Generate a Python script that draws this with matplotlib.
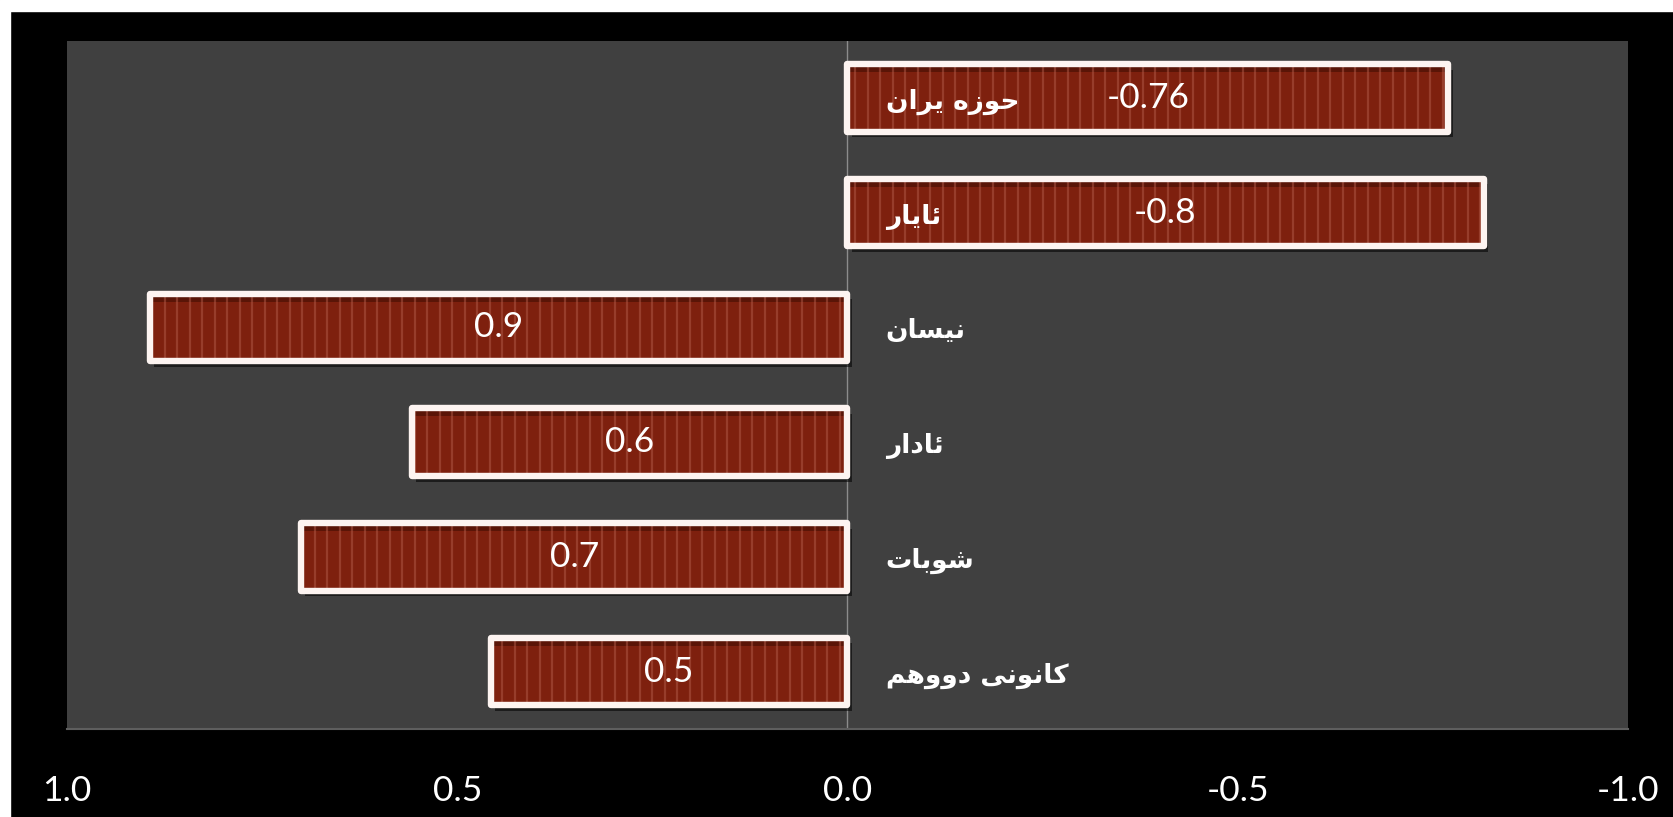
import numpy as np
import matplotlib
matplotlib.use("Agg")
import matplotlib.pyplot as plt
import matplotlib.patheffects as pe
from matplotlib.patches import Rectangle

# ---------------- data ----------------
months = ["کانونی دووهم", "شوبات", "ئادار", "نیسان", "ئایار", "حوزه یران"]
values = [0.457, 0.70, 0.558, 0.894, -0.815, -0.77]
value_labels = ["0.5", "0.7", "0.6", "0.9", "-0.8", "-0.76"]
xticks = [1.0, 0.5, 0.0, -0.5, -1.0]
xtick_labels = ["1.0", "0.5", "0.0", "-0.5", "-1.0"]

# ---------------- simple Arabic-script shaping ----------------
FORMS = {
    "\u0627": ("\uFE8D", "\uFE8E", None, None),
    "\u0628": ("\uFE8F", "\uFE90", "\uFE91", "\uFE92"),
    "\u062A": ("\uFE95", "\uFE96", "\uFE97", "\uFE98"),
    "\u062D": ("\uFEA1", "\uFEA2", "\uFEA3", "\uFEA4"),
    "\u062F": ("\uFEA9", "\uFEAA", None, None),
    "\u0631": ("\uFEAD", "\uFEAE", None, None),
    "\u0632": ("\uFEAF", "\uFEB0", None, None),
    "\u0633": ("\uFEB1", "\uFEB2", "\uFEB3", "\uFEB4"),
    "\u0634": ("\uFEB5", "\uFEB6", "\uFEB7", "\uFEB8"),
    "\u0645": ("\uFEE1", "\uFEE2", "\uFEE3", "\uFEE4"),
    "\u0646": ("\uFEE5", "\uFEE6", "\uFEE7", "\uFEE8"),
    "\u0647": ("\uFEE9", "\uFEEA", "\uFEEB", "\uFEEC"),
    "\u0648": ("\uFEED", "\uFEEE", None, None),
    "\u0626": ("\uFE89", "\uFE8A", "\uFE8B", "\uFE8C"),
    "\u06CC": ("\uFBFC", "\uFBFD", "\uFBFE", "\uFBFF"),
    "\u06A9": ("\uFB8E", "\uFB8F", "\uFB90", "\uFB91"),
}


def shape(text):
    out = []
    n = len(text)
    for i, ch in enumerate(text):
        if ch not in FORMS:
            out.append(ch)
            continue
        prev = text[i - 1] if i > 0 else None
        nxt = text[i + 1] if i < n - 1 else None
        jp = prev in FORMS and FORMS[prev][2] is not None
        jn = FORMS[ch][2] is not None and nxt in FORMS
        iso, fin, ini, med = FORMS[ch]
        if jp and jn:
            out.append(med)
        elif jp:
            out.append(fin)
        elif jn:
            out.append(ini)
        else:
            out.append(iso)
    return "".join(out)[::-1]


# ---------------- figure ----------------
W, H = 1674, 817
fig = plt.figure(figsize=(W / 100, H / 100), dpi=100, facecolor="black")
fig.add_artist(Rectangle((0, 1 - 11 / H), 1, 11 / H, transform=fig.transFigure,
                         color="white", zorder=10))
fig.add_artist(Rectangle((0, 0), 10 / W, 1, transform=fig.transFigure,
                         color="white", zorder=10))

ax = fig.add_axes([67 / W, 1 - 729 / H, (1628 - 67) / W, (729 - 40.5) / H])
ax.set_facecolor("#404040")
for s in ["top", "left", "right"]:
    ax.spines[s].set_visible(False)
ax.spines["bottom"].set_color("#5e5e5e")
ax.spines["bottom"].set_linewidth(1.5)

ax.set_xlim(1.0, -1.0)
ax.set_ylim(-0.5, len(months) - 0.5)
ax.set_yticks([])
ax.set_xticks(xticks)
ax.set_xticklabels(xtick_labels, family="Lato", fontsize=25.5, color="white")
ax.tick_params(axis="x", length=0, pad=33)

ax.axvline(0, color="#8c8c8c", lw=1.0, zorder=1)

ypos = np.arange(len(months))
bh = 0.59
px = 1.0 / 114.75  # one pixel in y data units

fills = ax.barh(ypos, values, height=bh, color="#7e200e", linewidth=0, zorder=2,
                path_effects=[pe.SimplePatchShadow(offset=(3, -4), shadow_rgbFace="black",
                                                   alpha=0.55), pe.Normal()])
# darker inner top band
ax.barh(ypos + bh / 2 - 5.5 * px, values, height=5 * px, color="#5a1507",
        linewidth=0, zorder=3)
# vertical light stripes
step = 12.5 / 780.3
for y, v, bar in zip(ypos, values, fills):
    xs = np.arange(step * 0.6, abs(v), step) * np.sign(v)
    lc = ax.vlines(xs, y - bh / 2, y + bh / 2, colors="#b05a48", lw=1.6,
                   alpha=0.5, zorder=4)
    lc.set_clip_path(bar)
# white frame
ax.barh(ypos, values, height=bh, fill=False, edgecolor="#fdf4f1", linewidth=4.6,
        joinstyle="round", zorder=5)

for y, v, lab in zip(ypos, values, value_labels):
    ax.text(v / 2, y, lab, ha="center", va="center", color="white",
            family="Lato", fontsize=25.5, zorder=6)

for y, m in zip(ypos, months):
    ax.text(-0.049, y - 0.035, shape(m), ha="left", va="center", color="white",
            family="DejaVu Sans", fontweight="bold", fontsize=19, zorder=6)

fig.savefig("out.png", dpi=100, facecolor="black")
